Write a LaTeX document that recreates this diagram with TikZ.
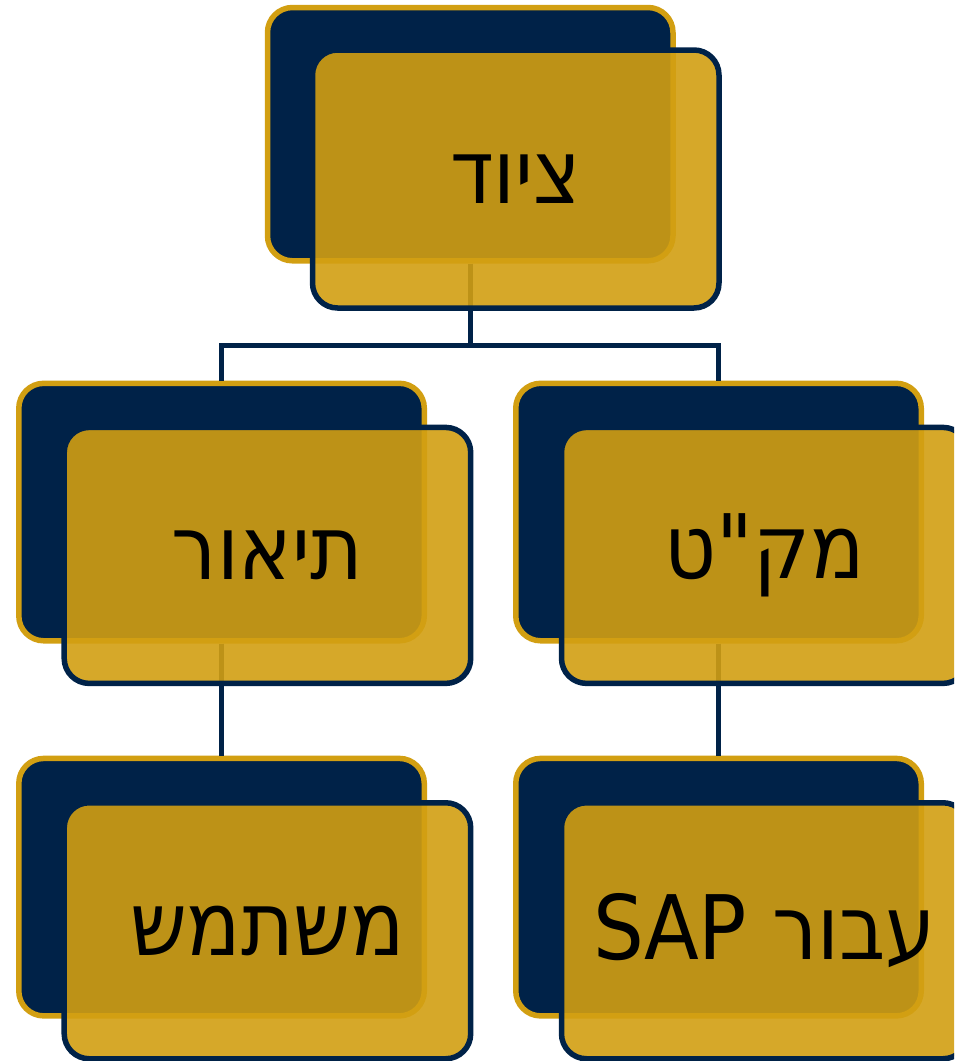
\documentclass[tikz,border=0pt]{standalone}
\usepackage{fontspec}
\TeXXeTstate=1
\newfontfamily\hebfont[Script=Hebrew]{DejaVu Sans Condensed}
\definecolor{navy}{RGB}{0,34,72}
\definecolor{gold}{RGB}{210,159,18}
\newcommand{\boxtext}[1]{\raisebox{-3pt}{\beginR #1\endR}}
\tikzset{
  backbox/.style={draw=gold, fill=navy, line width=5.5pt, rounded corners=25pt,
    minimum width=405.5pt, minimum height=257.5pt, inner sep=0pt},
  frontbox/.style={draw=navy, fill=gold, fill opacity=0.9, text opacity=1,
    line width=5.5pt, rounded corners=25pt,
    minimum width=406.5pt, minimum height=256pt, inner sep=0pt,
    font=\hebfont\fontsize{89}{100}\selectfont, text=black},
  conn/.style={draw=navy, line width=5.5pt}
}
\begin{document}
\begin{tikzpicture}[x=1pt,y=-1pt]
\useasboundingbox (0,0) rectangle (954,1061);
\clip (0,0) rectangle (954,1061);
% back boxes
\node[backbox, minimum height=253.3pt] (b1) at (470.25,134.15) {};
\node[backbox] (b2) at (221.55,512.05) {};
\node[backbox] (b3) at (718.5,512.05) {};
\node[backbox] (b4) at (221.55,887.15) {};
\node[backbox] (b5) at (718.5,887.15) {};
% connectors
\coordinate (j) at (470.25,345.5);
\draw[conn] (b1.south) -- (j);
\draw[conn] (j) -| (b2.north);
\draw[conn] (j) -| (b3.north);
\draw[conn] (b2.south) -- (b4.north);
\draw[conn] (b3.south) -- (b5.north);
% front boxes
\node[frontbox, minimum height=258pt] (f1) at (515.75,179) {\boxtext{ציוד}};
\node[frontbox] (f2) at (267.45,555.4) {\boxtext{תיאור}};
\node[frontbox] (f3) at (764.75,555.4) {\boxtext{מק"ט}};
\node[frontbox] (f4) at (267.45,930.75) {\boxtext{משתמש}};
\node[frontbox] (f5) at (764.75,930.75) {\boxtext{עבור \beginL SAP\endL}};
\end{tikzpicture}
\end{document}
